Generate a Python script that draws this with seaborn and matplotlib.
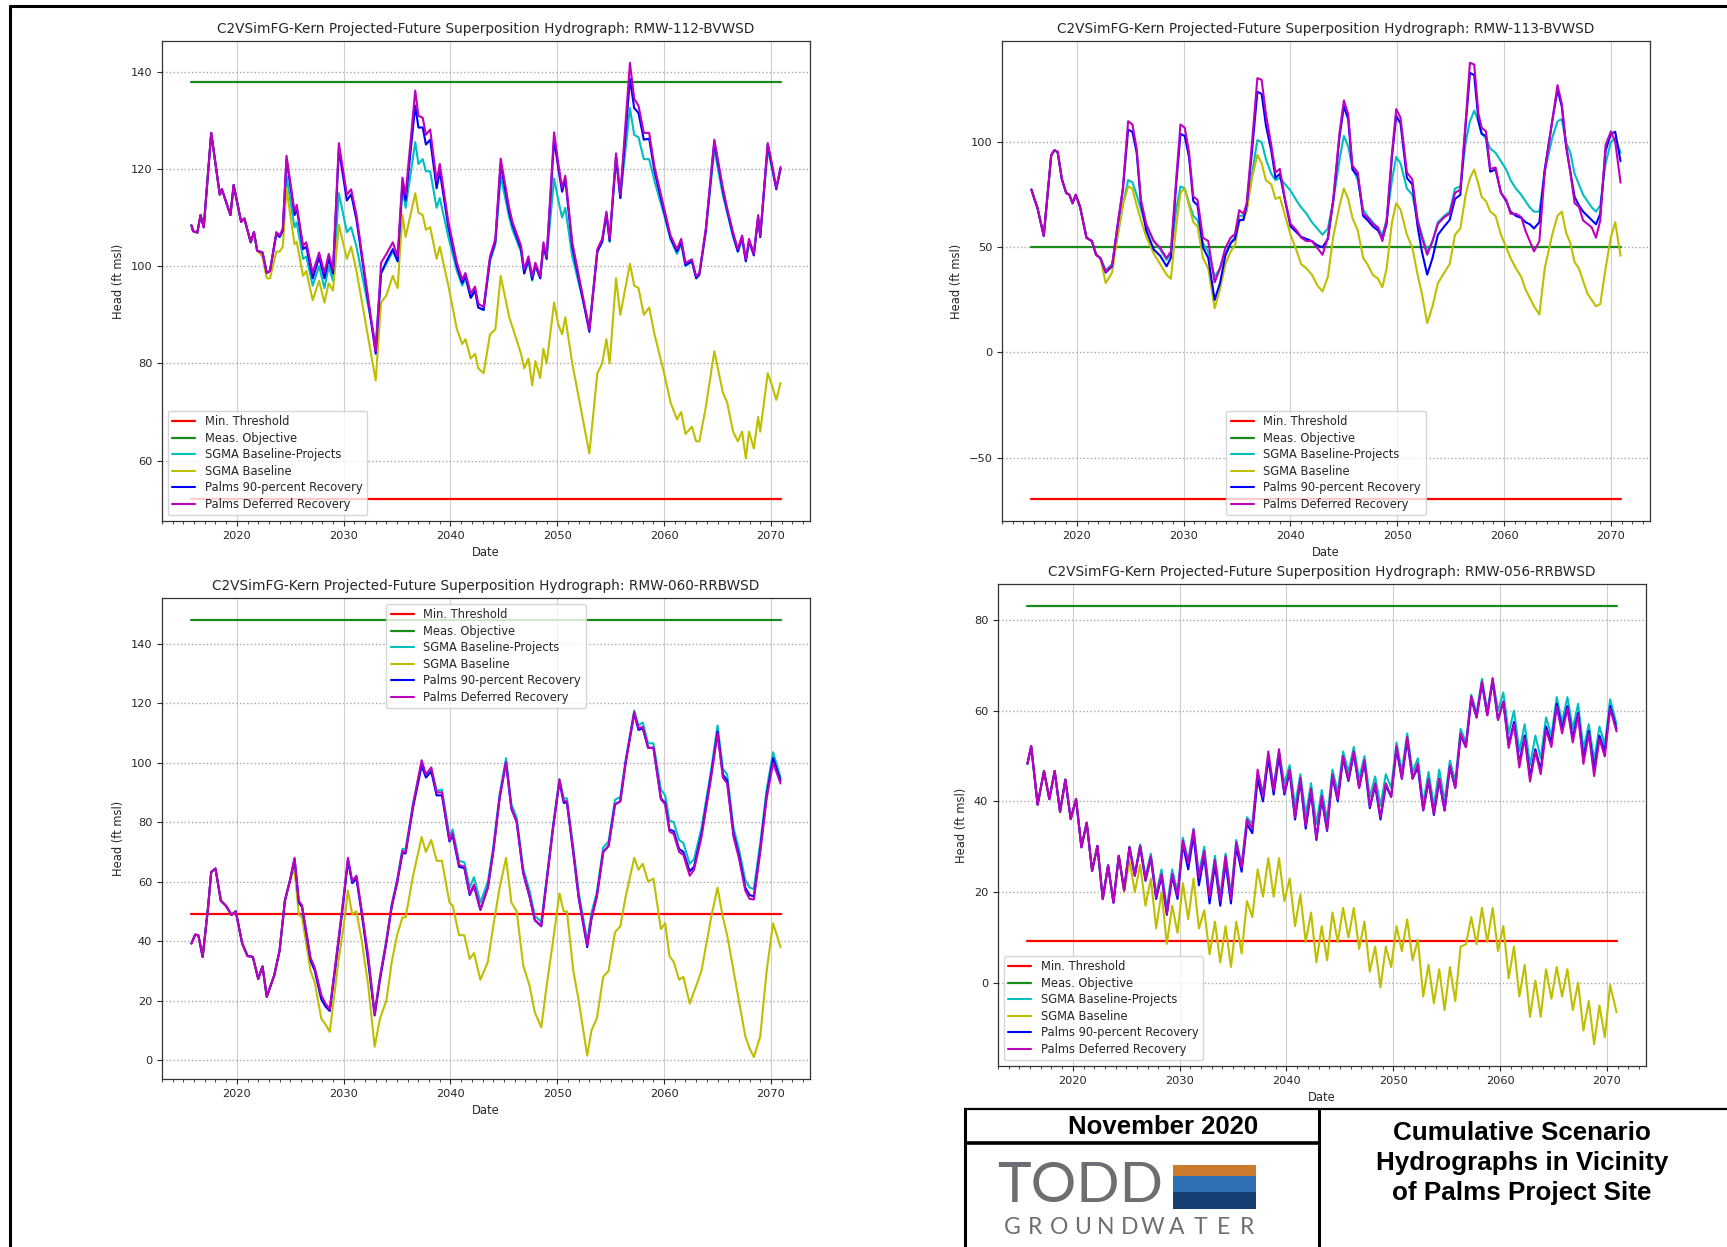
import numpy as np
import matplotlib
matplotlib.use("Agg")
import matplotlib.pyplot as plt
import seaborn as sns
from matplotlib.ticker import MultipleLocator, FormatStrFormatter
from matplotlib.lines import Line2D
from matplotlib.patches import Rectangle

# ---------------- DATA ----------------
labels = ["Min. Threshold", "Meas. Objective", "SGMA Baseline-Projects",
          "SGMA Baseline", "Palms 90-percent Recovery", "Palms Deferred Recovery"]
titles = ["C2VSimFG-Kern Projected-Future Superposition Hydrograph: RMW-112-BVWSD",
          "C2VSimFG-Kern Projected-Future Superposition Hydrograph: RMW-113-BVWSD",
          "C2VSimFG-Kern Projected-Future Superposition Hydrograph: RMW-060-RRBWSD",
          "C2VSimFG-Kern Projected-Future Superposition Hydrograph: RMW-056-RRBWSD"]

# ---- Panel 1: RMW-112-BVWSD ----
p1_min_threshold = 52.1
p1_meas_objective = 137.9
p1_hist_dates = [2015.75, 2015.9, 2016.3, 2016.6, 2016.9, 2017.6, 2018.4, 2018.6, 2019.4, 2019.7,
                 2020.4, 2020.7, 2021.3, 2021.6, 2021.9]
p1_hist_head = [108.4, 107.2, 106.9, 110.5, 108.0, 127.4, 114.7, 115.8, 110.5, 116.7,
                109.1, 109.8, 104.9, 107.0, 103.2]
p1_dates = [2022.4, 2022.8, 2023.1, 2023.7, 2024.0, 2024.3, 2024.65, 2025.4, 2025.6, 2026.2,
            2026.5, 2027.1, 2027.7, 2028.2, 2028.6, 2029.0, 2029.55, 2030.3, 2030.7, 2031.2,
            2033.0, 2033.5, 2034.0, 2034.6, 2035.05, 2035.5, 2035.8, 2036.7, 2037.0, 2037.4,
            2037.7, 2038.1, 2038.7, 2039.0, 2039.8, 2040.6, 2041.1, 2041.4, 2041.9, 2042.3,
            2042.6, 2043.1, 2043.7, 2044.2, 2044.7, 2045.5, 2045.8, 2046.6, 2046.9, 2047.3,
            2047.65, 2047.95, 2048.4, 2048.7, 2049.0, 2049.7, 2050.1, 2050.45, 2050.75, 2051.4,
            2053.0, 2053.75, 2054.2, 2054.6, 2054.9, 2055.5, 2055.9, 2056.8, 2057.2, 2057.6,
            2058.1, 2058.6, 2059.1, 2060.0, 2060.6, 2061.2, 2061.6, 2062.0, 2062.6, 2063.0,
            2063.3, 2063.9, 2064.7, 2065.5, 2065.9, 2066.45, 2066.9, 2067.3, 2067.65, 2067.95,
            2068.4, 2068.8, 2069.0, 2069.7, 2070.1, 2070.5, 2070.9]
p1_sgma_projects = [102.8, 98.6, 99, 106.5, 106, 107, 118.5, 108, 109, 101.5,
                    102, 96, 100, 95.5, 100, 97, 115, 107, 108, 104,
                    84, 98.5, 100.5, 103, 101, 116, 112, 125.5, 121, 122,
                    119.5, 119.5, 112, 114, 106, 99, 96, 97.5, 93.5, 95,
                    91.5, 91, 101, 104.5, 118.5, 110, 107.5, 103, 98.5, 101,
                    97, 100, 97.5, 104, 101.5, 118, 113.5, 110, 112, 102,
                    87.5, 103, 105, 110.5, 105, 122, 114, 132.5, 127, 126.5,
                    122, 122, 117.5, 110.5, 105.5, 102.5, 104.5, 100, 101, 97.5,
                    98.5, 107, 124, 114.5, 111, 106, 103, 105.5, 101, 105,
                    102.5, 110, 106, 124, 120, 116, 120]
p1_sgma_baseline = [102, 97.5, 97.5, 103, 103, 104, 116, 104.5, 105, 98,
                    99, 93, 97, 92.5, 96.5, 95, 108.5, 101.5, 104, 99,
                    76.5, 92.5, 94, 98, 95.5, 110.5, 106, 115, 111, 110.5,
                    107.5, 108, 101.5, 104, 96, 87, 84, 85, 81, 82,
                    79, 78, 86, 87, 98, 89.5, 87.5, 82, 79, 81,
                    75.5, 80.5, 77, 83, 80, 92.5, 88, 86, 89.5, 80,
                    61.5, 78, 80, 85, 80, 97.5, 90, 100.5, 96, 95.5,
                    90, 91.5, 86, 78, 72, 68.5, 70, 65.5, 67, 64,
                    64, 71, 82.5, 74, 72, 66, 64, 66, 60.5, 66,
                    62.5, 69, 66, 78, 75.5, 72.5, 76]
p1_palms_90 = [102.8, 98.6, 99, 106.8, 106, 107.3, 122, 110.5, 112, 103.5,
               104, 97.5, 101.8, 97.5, 101.5, 98.5, 124, 113.5, 114.8, 109.5,
               82, 98.5, 101, 103.5, 101, 117, 113.5, 133, 128.5, 128.5,
               125, 126, 116, 119.5, 108, 100, 96.5, 98, 93.5, 95,
               91.5, 91, 101.5, 105, 121, 111, 108.5, 103.5, 98.5, 101.5,
               97.3, 100.3, 97.5, 104.3, 101.5, 126, 120, 115.3, 117.8, 104,
               86.5, 103, 105, 110.8, 105.2, 122.5, 114, 138.5, 132.5, 131.5,
               126, 126.2, 119.5, 111.2, 105.8, 103, 105, 100.2, 101, 97.5,
               98.2, 107.2, 125.5, 115.5, 111.5, 106.5, 103, 106, 101, 105.2,
               102.2, 110, 106, 125, 120.5, 115.8, 120]
p1_palms_deferred = [102.8, 98.6, 99, 107, 106.3, 107.7, 122.7, 111.2, 112.6, 104.2,
                     104.9, 98.6, 102.8, 98.6, 102.5, 99.3, 125.3, 114.7, 115.8, 110.5,
                     82.5, 100.7, 102.5, 104.9, 102, 118.2, 114.7, 136.1, 130.9, 130.5,
                     127, 128.1, 117.5, 121, 109.1, 100.7, 97.2, 98.6, 94.4, 95.8,
                     92.3, 91.6, 102, 105.6, 122.1, 111.9, 109.1, 104.2, 99.3, 102,
                     97.9, 100.7, 97.9, 104.9, 102, 127.5, 121, 116.1, 118.6, 104.9,
                     87, 103.5, 105.6, 111.2, 105.6, 123.2, 114.7, 141.8, 134.4, 133,
                     127.4, 127.4, 120.4, 111.9, 106.3, 103.5, 105.6, 100.7, 101.4, 97.9,
                     98.6, 107.7, 126, 116.1, 111.9, 107, 103.5, 106.3, 101.4, 105.6,
                     102.5, 110.5, 106.3, 125.3, 121, 116.1, 120.4]

# ---- Panel 2: RMW-113-BVWSD ----
p2_min_threshold = -69.8
p2_meas_objective = 50.0
p2_hist_dates = [2015.75, 2016.0, 2016.3, 2016.9, 2017.6, 2017.9, 2018.2, 2018.6, 2019.0, 2019.3,
                 2019.6, 2019.9, 2020.3, 2020.9, 2021.4, 2021.8, 2022.2]
p2_hist_head = [77.5, 73.4, 69.0, 55.5, 93.8, 96.2, 95.4, 82.4, 75.9, 75.0,
                71.0, 75.0, 69.3, 54.6, 53.0, 46.5, 44.9]
p2_dates = [2022.7, 2023.3, 2023.8, 2024.3, 2024.8, 2025.2, 2025.6, 2026.0, 2026.5, 2027.2,
            2027.8, 2028.4, 2028.8, 2029.3, 2029.7, 2030.1, 2030.5, 2030.9, 2031.3, 2031.8,
            2032.3, 2032.9, 2033.4, 2033.9, 2034.4, 2034.8, 2035.2, 2035.6, 2035.9, 2036.4,
            2036.9, 2037.3, 2037.7, 2038.2, 2038.6, 2039.0, 2039.5, 2040.0, 2040.6, 2041.0,
            2041.5, 2042.0, 2042.5, 2043.0, 2043.5, 2044.0, 2044.6, 2045.0, 2045.4, 2045.8,
            2046.3, 2046.8, 2047.2, 2047.7, 2048.2, 2048.6, 2049.0, 2049.5, 2049.9, 2050.3,
            2050.6, 2050.9, 2051.4, 2051.9, 2052.3, 2052.8, 2053.3, 2053.8, 2054.4, 2054.9,
            2055.4, 2055.9, 2056.4, 2056.8, 2057.2, 2057.6, 2057.9, 2058.3, 2058.7, 2059.2,
            2059.7, 2060.2, 2060.6, 2061.1, 2061.6, 2062.0, 2062.4, 2062.8, 2063.3, 2063.8,
            2064.5, 2065.0, 2065.4, 2065.8, 2066.2, 2066.6, 2067.0, 2067.4, 2067.8, 2068.2,
            2068.6, 2069.0, 2069.5, 2070.0, 2070.4, 2070.9]
p2_sgma_projects = [39, 42, 55, 70, 82, 81, 75, 68, 60, 53,
                    49, 44, 47, 68, 79, 78, 71, 65, 63, 52,
                    48, 36, 40, 47, 52, 55, 65, 65, 68, 85,
                    101, 100, 92, 85, 82, 83, 80, 77, 72, 69,
                    66, 62, 59, 56, 59, 72, 92, 103, 98, 88,
                    82, 68, 65, 62, 59, 56, 63, 82, 93, 90,
                    84, 78, 75, 63, 56, 48, 53, 62, 65, 67,
                    78, 79, 100, 110, 115, 110, 104, 102, 97, 95,
                    91, 87, 82, 78, 75, 72, 69, 67, 67, 86,
                    102, 110, 111, 100, 95, 85, 80, 75, 72, 69,
                    67, 70, 90, 100, 102, 95]
p2_sgma_baseline = [33, 38, 55, 70, 79, 78, 70, 63, 55, 47,
                    42, 37, 35, 60, 76, 78, 70, 62, 60, 45,
                    40, 21, 30, 42, 48, 51, 62, 64, 67, 83,
                    94, 90, 82, 80, 73, 74, 65, 56, 48, 42,
                    40, 37, 32, 29, 36, 55, 70, 78, 73, 64,
                    58, 45, 42, 37, 35, 31, 40, 62, 71, 68,
                    62, 56, 50, 37, 28, 14, 22, 33, 38, 42,
                    56, 59, 75, 83, 87, 80, 74, 72, 67, 65,
                    56, 50, 45, 40, 36, 30, 26, 22, 18, 40,
                    56, 65, 67, 57, 52, 43, 40, 34, 28, 25,
                    22, 23, 40, 55, 62, 46]
p2_palms_90 = [38, 41, 60, 77, 106, 105, 95, 71, 58, 49,
               46, 41, 45, 80, 104, 103, 93, 72, 70, 50,
               45, 25, 33, 46, 52, 54, 63, 63, 70, 96,
               124, 123, 108, 96, 83, 85, 72, 60, 57, 55,
               54, 53, 51, 50, 54, 72, 103, 117, 111, 87,
               84, 65, 63, 60, 58, 54, 61, 93, 112.5, 109,
               96, 83, 80, 60, 48, 37, 45, 56, 60, 63,
               73, 75, 108, 133, 132, 110, 104, 103, 86, 87,
               76, 72, 67, 65, 64, 62, 61, 59, 62, 87,
               110, 125, 117, 98, 86, 74, 70, 67, 65, 63,
               61, 66, 96, 104, 105, 91]
p2_palms_deferred = [38.3, 41.6, 60, 78, 110, 108.5, 97, 72.6, 61, 53,
                     49.8, 44.9, 48, 82.4, 108.5, 106.9, 95.4, 74.2, 72.6, 54.6,
                     53, 33.4, 40, 49.7, 54.6, 56.3, 67.7, 66, 71, 100,
                     130.5, 129.7, 113.4, 98.7, 85.6, 87.3, 72.6, 61.2, 57.9, 54.6,
                     53, 53, 49.8, 46.5, 54.6, 72.6, 105, 119.9, 113.4, 88.9,
                     85.6, 66, 64.4, 61.2, 59.5, 53, 62.8, 95, 115.8, 111.7,
                     98.7, 85.6, 82.4, 62.8, 54.6, 46.5, 53, 61.2, 64.4, 66,
                     75.9, 77.5, 110, 137.8, 137, 113.4, 106.9, 105.2, 87.3, 88,
                     75.9, 72.6, 66, 66, 64.4, 57.9, 53, 48.1, 53, 85.6,
                     110, 127.2, 118.3, 98.7, 85.6, 71, 69.3, 62.8, 61.2, 59.5,
                     54.6, 62.8, 98.7, 105.2, 100.3, 80.8]

# ---- Panel 3: RMW-060-RRBWSD ----
p3_min_threshold = 49.2
p3_meas_objective = 148.0
p3_hist_dates = [2015.75, 2016.1, 2016.4, 2016.8, 2017.3, 2017.6, 2018.0, 2018.5, 2019.0, 2019.5,
                 2019.9, 2020.5, 2021.0, 2021.5, 2022.0, 2022.4, 2022.8, 2023.5, 2024.0, 2024.5,
                 2025.0]
p3_hist_head = [39.2, 42.2, 41.9, 34.7, 51.2, 63.2, 64.4, 53.6, 51.8, 48.8,
                50.0, 39.2, 35.0, 34.7, 27.3, 31.5, 21.3, 28.5, 36.8, 53.6,
                60.8]
p3_dates = [2025.4, 2025.8, 2026.1, 2026.9, 2027.3, 2027.9, 2028.3, 2028.7, 2029.5, 2030.0,
            2030.4, 2030.8, 2031.2, 2031.7, 2032.3, 2032.9, 2033.4, 2034.0, 2034.5, 2035.0,
            2035.5, 2035.8, 2036.5, 2037.3, 2037.7, 2038.2, 2038.7, 2039.2, 2039.9, 2040.2,
            2040.8, 2041.3, 2041.8, 2042.2, 2042.8, 2043.5, 2044.0, 2044.6, 2045.2, 2045.7,
            2046.2, 2046.8, 2047.4, 2047.9, 2048.5, 2049.0, 2049.6, 2050.2, 2050.6, 2050.9,
            2051.5, 2052.0, 2052.8, 2053.2, 2053.7, 2054.3, 2054.8, 2055.4, 2055.9, 2056.4,
            2057.2, 2057.6, 2058.0, 2058.5, 2059.0, 2059.7, 2060.1, 2060.5, 2060.9, 2061.4,
            2061.8, 2062.4, 2062.8, 2063.5, 2064.4, 2065.0, 2065.5, 2065.9, 2066.5, 2067.0,
            2067.6, 2068.0, 2068.4, 2069.0, 2069.6, 2070.2, 2070.9]
p3_sgma_projects = [67.5, 53, 51.5, 33.5, 30.5, 21, 18.5, 17, 39.5, 54.5,
                    67.5, 60, 61.5, 49.5, 34, 16, 28, 40.5, 52.5, 60.5,
                    71, 71, 86.5, 100, 96, 98, 90.5, 91, 75.5, 77.5,
                    67, 66.5, 58, 61.5, 53, 60, 71.5, 89.5, 101.5, 86,
                    81.5, 64.5, 57, 48.5, 46.5, 61, 79, 94.5, 88, 88,
                    71.5, 56.5, 40, 49.5, 56.5, 71.5, 73.5, 87.5, 88.5, 101,
                    117.5, 112.5, 113.5, 106.5, 106.5, 91, 89, 80.5, 80, 74,
                    73, 66, 67.5, 78, 97.5, 112.5, 98, 96, 78, 71,
                    60.5, 58, 57.5, 73, 91, 103.5, 95]
p3_sgma_baseline = [64, 49, 48, 30, 26, 14, 12, 9.5, 33, 45,
                    57, 49, 50, 40, 25, 4.5, 14, 20, 33, 42,
                    48, 48, 62, 75, 70, 74, 67, 67, 53, 52,
                    42, 42, 34, 36, 27, 33, 45, 58, 68, 53,
                    50, 32, 25, 16, 11, 25, 40, 56, 50, 50,
                    30, 20, 1.5, 10, 14, 28, 30, 43, 45, 55,
                    68, 64, 66, 60, 61, 44, 46, 35, 33, 27,
                    28, 19, 23, 30, 48, 58, 48, 42, 30, 20,
                    8, 4, 1, 8, 30, 46, 38]
p3_palms_90 = [67.5, 53, 51.5, 33.5, 30, 20.5, 18, 16.5, 39, 54,
               67, 59.5, 61, 49, 33, 15, 27, 39.5, 51.5, 59.5,
               69.5, 69.5, 85, 99, 95, 97, 89, 89, 73.5, 75.5,
               65, 64.5, 55.5, 58.5, 50.5, 58, 70, 88, 100, 84.5,
               80, 63, 55, 47, 45, 60, 78, 93.5, 86.5, 86.5,
               69.5, 54.5, 38, 47.5, 55, 70, 72, 86, 87, 100,
               116.5, 111, 111.5, 105, 105, 88, 86.5, 77.5, 77, 71,
               70, 63.5, 65, 76, 96, 110.5, 96, 94, 76, 69,
               58, 55.5, 55, 71, 89, 101.5, 94]
p3_palms_deferred = [68, 53.6, 52, 34.4, 31, 21.9, 19, 17.1, 40.4, 55,
                     68, 60.2, 62, 50, 35, 15.3, 27.9, 40, 52, 60,
                     70.3, 70, 85.9, 100.8, 96, 98.4, 90, 90, 74, 76.3,
                     65.6, 65, 56, 59, 50.6, 58, 70, 88.3, 100.2, 84.7,
                     80, 63.2, 55, 47, 45.2, 60, 78, 94.3, 87.1, 87,
                     70, 55, 38.6, 48, 55, 70, 72, 85.9, 87, 100,
                     117, 111.6, 112, 105, 105, 87.7, 86, 76.9, 76, 70,
                     69, 62, 64, 75, 95, 109.8, 95, 93, 75, 68,
                     57, 54.2, 54, 70, 88, 100, 93]

# ---- Panel 4: RMW-056-RRBWSD ----
p4_min_threshold = 9.3
p4_meas_objective = 83.1
p4_hist_dates = [2015.75, 2016.1, 2016.7, 2017.3, 2017.8, 2018.3, 2018.8, 2019.3, 2019.8, 2020.3,
                 2020.8, 2021.3, 2021.8, 2022.3, 2022.8, 2023.3, 2023.8, 2024.3]
p4_hist_head = [48.3, 52.2, 39.3, 46.7, 40.5, 46.7, 37.7, 44.8, 36.1, 40.5,
                29.9, 35.3, 24.7, 30.2, 18.5, 25.9, 17.7, 28.0]
p4_dates = [2024.8, 2025.3, 2025.8, 2026.3, 2026.8, 2027.3, 2027.8, 2028.3, 2028.8, 2029.3,
            2029.8, 2030.3, 2030.8, 2031.3, 2031.8, 2032.3, 2032.8, 2033.3, 2033.8, 2034.3,
            2034.8, 2035.3, 2035.8, 2036.3, 2036.8, 2037.3, 2037.8, 2038.3, 2038.8, 2039.3,
            2039.8, 2040.3, 2040.8, 2041.3, 2041.8, 2042.3, 2042.8, 2043.3, 2043.8, 2044.3,
            2044.8, 2045.3, 2045.8, 2046.3, 2046.8, 2047.3, 2047.8, 2048.3, 2048.8, 2049.3,
            2049.8, 2050.3, 2050.8, 2051.3, 2051.8, 2052.3, 2052.8, 2053.3, 2053.8, 2054.3,
            2054.8, 2055.3, 2055.8, 2056.3, 2056.8, 2057.3, 2057.8, 2058.3, 2058.8, 2059.3,
            2059.8, 2060.3, 2060.8, 2061.3, 2061.8, 2062.3, 2062.8, 2063.3, 2063.8, 2064.3,
            2064.8, 2065.3, 2065.8, 2066.3, 2066.8, 2067.3, 2067.8, 2068.3, 2068.8, 2069.3,
            2069.8, 2070.3, 2070.9]
p4_sgma_projects = [20.5, 30, 24, 30.5, 23.5, 28.5, 19.5, 25, 16.5, 25,
                    20, 32, 27, 34, 24, 30, 19.5, 28, 19, 28.5,
                    19.5, 31.5, 26, 36.5, 35, 46, 42, 50, 43.5, 51,
                    44, 48, 39, 46, 37, 44, 35, 42.5, 36, 47,
                    42, 51, 46.5, 52, 45, 50, 41, 45.5, 39, 46,
                    43, 53, 46.5, 55, 46.5, 49.5, 39.5, 46.5, 39, 47,
                    40, 49, 44.5, 56, 53, 63.5, 59.5, 67, 60, 67,
                    60, 64, 55, 60, 51, 57, 48, 54.5, 49.5, 58.5,
                    54.5, 63, 57.5, 63, 56, 61.5, 51.5, 57, 49, 56.5,
                    52.5, 62.5, 57]
p4_sgma_baseline = [20, 27, 20, 26, 17, 23, 12, 20, 8.6, 17,
                    11, 22, 14, 23, 12, 16, 6.3, 13.5, 4.5, 12.5,
                    3.5, 13.5, 6.5, 18, 14.5, 25, 19, 27.5, 19, 27.5,
                    18, 23, 12.5, 19.5, 9, 15.5, 4.5, 12.5, 5, 15.5,
                    9, 16.5, 10, 16.5, 7.5, 13.5, 2.5, 8, -1, 8,
                    3.5, 12.5, 7, 14, 5, 9.5, -3, 4, -4.5, 3,
                    -6, 3.5, -4, 8, 8.5, 14.5, 8.5, 16.5, 9, 16.5,
                    7, 12.5, 1, 8, -3, 4, -7.5, 0.5, -7.5, 3,
                    -3.5, 3.5, -3, 3, -6, 0, -10.5, -4, -13.5, -5,
                    -12, -0.5, -6.5]
p4_palms_90 = [20.4, 29.9, 23.6, 30, 22.5, 27.5, 18.5, 23.5, 15, 23.5,
               18.5, 30.5, 25, 32.5, 21.5, 28, 17.5, 26, 17, 26.5,
               17.5, 30, 24.5, 35, 33, 45, 40, 49.5, 41.5, 50,
               41.5, 46.5, 36, 44.5, 34, 42, 31.5, 40.5, 33.5, 45.5,
               40, 49.5, 44.5, 50.5, 43, 48.5, 38.5, 43.5, 36, 43.5,
               41, 51.5, 45, 53.5, 45, 47.5, 38, 44.5, 37, 44.5,
               38, 47.5, 43, 54.5, 52, 62.5, 58.5, 66, 59, 66.5,
               58, 62, 52.5, 57.5, 48.5, 54.5, 45.5, 51.5, 47, 56.5,
               53, 61.5, 56, 61, 54, 59.5, 49.5, 55.5, 47, 54.5,
               51, 61, 56]
p4_palms_deferred = [20.4, 29.9, 23.6, 30.2, 22.8, 27.9, 18.9, 24, 15.3, 24,
                     19.2, 31.4, 26.3, 33.8, 23.2, 29.1, 18.9, 27.1, 18.1, 27.9,
                     18.5, 31, 25.5, 36, 34, 47, 41, 51, 42.4, 51.5,
                     42, 47, 36.5, 45.2, 34.6, 42.8, 31.8, 41.2, 33.8, 46,
                     40.5, 50, 44.8, 51, 43, 49.1, 38.9, 44, 36.5, 44,
                     41, 52.2, 45, 54.2, 45, 48.3, 38.1, 45, 37.3, 45,
                     38, 47.9, 43, 55, 52, 63.2, 58.5, 66.4, 59, 67.2,
                     58, 62, 51.8, 57, 47.5, 54, 44.4, 51, 46, 55.8,
                     52, 60.9, 55, 60.5, 53, 59, 48.3, 55, 45.6, 53.8,
                     49.9, 60.5, 55.4]

# ---------------- STYLE ----------------
sns.set_theme(style="ticks")
plt.rcParams['font.family'] = ['DejaVu Sans']
colors = ['#ff0000', '#1a8a1a', '#00bfbf', '#bfbf00', '#0000ff', '#bf00bf']

W, H = 1727, 1247
fig = plt.figure(figsize=(W / 100, H / 100), dpi=100)
fig.patch.set_facecolor('white')


def frac_rect(l, t, r, b):
    return [l / W, 1 - b / H, (r - l) / W, (b - t) / H]


def fx(x):
    return x / W


def fy(y):
    return 1 - y / H


panels = [
    dict(box=(162, 41, 810, 521), hist=(p1_hist_dates, p1_hist_head), dates=p1_dates,
         series=[p1_sgma_projects, p1_sgma_baseline, p1_palms_90, p1_palms_deferred],
         mt=p1_min_threshold, mo=p1_meas_objective, ystep=20, loc='lower left'),
    dict(box=(1002, 41, 1650, 521), hist=(p2_hist_dates, p2_hist_head), dates=p2_dates,
         series=[p2_sgma_projects, p2_sgma_baseline, p2_palms_90, p2_palms_deferred],
         mt=p2_min_threshold, mo=p2_meas_objective, ystep=50, loc='lower center'),
    dict(box=(162, 598, 810, 1079), hist=(p3_hist_dates, p3_hist_head), dates=p3_dates,
         series=[p3_sgma_projects, p3_sgma_baseline, p3_palms_90, p3_palms_deferred],
         mt=p3_min_threshold, mo=p3_meas_objective, ystep=20, loc='upper center'),
    dict(box=(998, 584, 1646, 1066), hist=(p4_hist_dates, p4_hist_head), dates=p4_dates,
         series=[p4_sgma_projects, p4_sgma_baseline, p4_palms_90, p4_palms_deferred],
         mt=p4_min_threshold, mo=p4_meas_objective, ystep=20, loc='lower left'),
]

for i, p in enumerate(panels):
    ax = fig.add_axes(frac_rect(*p['box']))
    hd, hv = p['hist']
    for s in p['series']:
        assert len(s) == len(p['dates']), (i, len(s), len(p['dates']))
    x_all = np.array(hd + p['dates'], dtype=float)
    x_span = [x_all[0], x_all[-1]]
    sns.lineplot(x=x_span, y=[p['mt'], p['mt']], ax=ax, color=colors[0], lw=1.6,
                 label=labels[0], errorbar=None, sort=False)
    sns.lineplot(x=x_span, y=[p['mo'], p['mo']], ax=ax, color=colors[1], lw=1.6,
                 label=labels[1], errorbar=None, sort=False)
    for j, s in enumerate(p['series']):
        y_all = np.array(hv + s, dtype=float)
        sns.lineplot(x=x_all, y=y_all, ax=ax, color=colors[j + 2], lw=1.5,
                     label=labels[j + 2], errorbar=None, sort=False)
    ax.set_title(titles[i], fontsize=9.8, pad=6)
    ax.set_xlabel('Date', fontsize=8.3)
    ax.set_ylabel('Head (ft msl)', fontsize=8.3)
    ax.xaxis.set_major_locator(MultipleLocator(10))
    ax.xaxis.set_minor_locator(MultipleLocator(1))
    ax.xaxis.set_major_formatter(FormatStrFormatter('%d'))
    ax.yaxis.set_major_locator(MultipleLocator(p['ystep']))
    ax.tick_params(axis='both', which='major', labelsize=8.2, length=3.5, width=0.8)
    ax.tick_params(axis='x', which='minor', length=2, width=0.6)
    ax.set_axisbelow(True)
    ax.grid(axis='x', which='major', color='#cfcfcf', linestyle='-', linewidth=0.8)
    ax.grid(axis='y', which='major', color='#a8a8a8', linestyle=':', linewidth=1.0)
    for sp in ax.spines.values():
        sp.set_visible(True)
        sp.set_color('#333333')
        sp.set_linewidth(0.9)
    ax.legend(loc=p['loc'], fontsize=8.3, labelspacing=0.3, frameon=True,
              framealpha=0.8, edgecolor='#cccccc', fancybox=True, borderpad=0.4,
              handlelength=2.0)

# ---------------- PAGE FRAME & TITLE BLOCK ----------------
def hline(y, x0, x1, lw):
    fig.add_artist(Line2D([fx(x0), fx(x1)], [fy(y), fy(y)], color='black', lw=lw,
                          transform=fig.transFigure, solid_capstyle='butt'))


def vline(x, y0, y1, lw):
    fig.add_artist(Line2D([fx(x), fx(x)], [fy(y0), fy(y1)], color='black', lw=lw,
                          transform=fig.transFigure, solid_capstyle='butt'))


hline(6, 9, W, 2.2)
vline(10, 5, H, 2.2)
hline(1109, 964, W, 1.6)
vline(965, 1108, H, 2.2)
vline(1319, 1108, H, 2.2)
hline(1143, 964, 1320, 2.6)

block_font = ['Liberation Sans', 'DejaVu Sans']
fig.text(fx(1163), fy(1127), 'November 2020', ha='center', va='center',
         fontsize=18.5, fontweight='bold', family=block_font, color='black')
fig.text(fx(1522), fy(1163), 'Cumulative Scenario\nHydrographs in Vicinity\nof Palms Project Site',
         ha='center', va='center', fontsize=18.7, fontweight='bold', family=block_font,
         color='black', linespacing=1.3, multialignment='center')

# TODD logo
logo_grey = '#6d6e71'
fig.text(fx(997), fy(1186), 'TODD', ha='left', va='center', fontsize=41,
         family=['Lato', 'DejaVu Sans'], fontweight='normal', color=logo_grey)
fig.add_artist(Rectangle((fx(1173), fy(1176)), fx(83), 11 / H, transform=fig.transFigure,
                         facecolor='#c97a2c', edgecolor='none'))
fig.add_artist(Rectangle((fx(1173), fy(1209)), fx(83), 33 / H, transform=fig.transFigure,
                         facecolor='#2f6fb3', edgecolor='none'))
fig.add_artist(Rectangle((fx(1173), fy(1209)), fx(83), 17 / H, transform=fig.transFigure,
                         facecolor='#163f74', edgecolor='none'))
for k, ch in enumerate('GROUNDWATER'):
    fig.text(fx(1012 + k * 23.5), fy(1228), ch, ha='center', va='center', fontsize=16.5,
             family=['Lato', 'DejaVu Sans'], color=logo_grey)

fig.savefig('out.png', dpi=100, facecolor='white')
